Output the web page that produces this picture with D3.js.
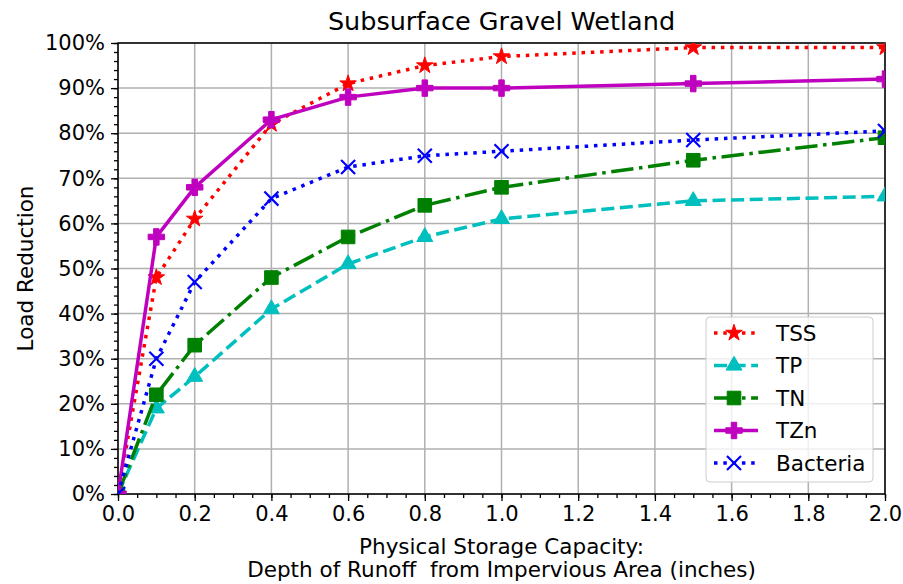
<!DOCTYPE html>
<html>
<head>
<meta charset="utf-8">
<script src="https://cdn.jsdelivr.net/npm/d3@7"></script>
<style>
  body { margin: 0; background: #fff; }
  text { font-family: "DejaVu Sans", sans-serif; fill: #000; }
</style>
</head>
<body>
<div id="chart"></div>
<script>
// depth of runoff (inches)
var depths = [0, 0.1, 0.2, 0.4, 0.6, 0.8, 1.0, 1.5, 2.0];

// load reduction (%) per pollutant
var tss      = [0, 48, 61, 82, 91, 95, 97, 99, 99];
var tp       = [0, 19, 26, 41, 51, 57, 61, 65, 66];
var tn       = [0, 22, 33, 48, 57, 64, 68, 74, 79];
var tzn      = [0, 57, 68, 83, 88, 90, 90, 91, 92];
var bacteria = [0, 30, 47, 65.5, 72.5, 75, 76, 78.5, 80.5];

var x_ticks = [0, 0.2, 0.4, 0.6, 0.8, 1.0, 1.2, 1.4, 1.6, 1.8, 2.0];
var y_ticks = [0, 10, 20, 30, 40, 50, 60, 70, 80, 90, 100];

var series = [
    {name: "TSS",      values: tss,      color: "#ff0000", dash: "3.5,5.8",           symbol: d3.symbolStar,     size: 85,  fill: true},
    {name: "TP",       values: tp,       color: "#00bfbf", dash: "13,5.6",            symbol: d3.symbolTriangle, size: 110, fill: true},
    {name: "TN",       values: tn,       color: "#008000", dash: "22.4,5.6,3.5,5.6",  symbol: d3.symbolSquare,   size: 185, fill: true},
    {name: "TZn",      values: tzn,      color: "#bf00bf", dash: null,                symbol: d3.symbolCross,    size: 150, fill: true},
    {name: "Bacteria", values: bacteria, color: "#0000ff", dash: "3.5,5.8",           symbol: d3.symbolX,        size: 130, fill: false}
];

var width = 903, height = 584;
var margin = {top: 43, right: 18, bottom: 90, left: 118};
var inner_width = width - margin.left - margin.right;
var inner_height = height - margin.top - margin.bottom;

var svg = d3.select("#chart").append("svg")
    .attr("width", width)
    .attr("height", height);

var x_scale = d3.scaleLinear().domain([0, 2]).range([0, inner_width]);
var y_scale = d3.scaleLinear().domain([0, 100]).range([inner_height, 0]);

var g = svg.append("g")
    .attr("transform", "translate(" + margin.left + "," + margin.top + ")");

// grid
g.append("g").selectAll("line").data(x_ticks).enter().append("line")
    .attr("x1", function(d) {return x_scale(d);})
    .attr("x2", function(d) {return x_scale(d);})
    .attr("y1", 0).attr("y2", inner_height)
    .attr("stroke", "#b0b0b0").attr("stroke-width", 1.5);
g.append("g").selectAll("line").data(y_ticks).enter().append("line")
    .attr("y1", function(d) {return y_scale(d);})
    .attr("y2", function(d) {return y_scale(d);})
    .attr("x1", 0).attr("x2", inner_width)
    .attr("stroke", "#b0b0b0").attr("stroke-width", 1.5);

// axes (major + minor ticks)
var x_axis = d3.axisBottom(x_scale).tickValues(x_ticks).tickSize(7).tickPadding(5)
    .tickFormat(d3.format(".1f"));
var x_minor = d3.axisBottom(x_scale).tickValues(d3.range(0, 2.0001, 0.05)).tickSize(4).tickFormat("");
var y_axis = d3.axisLeft(y_scale).tickValues(y_ticks).tickSize(7).tickPadding(6)
    .tickFormat(function(d) {return d + "%";});
var y_minor = d3.axisLeft(y_scale).tickValues(d3.range(0, 100.001, 2)).tickSize(4).tickFormat("");

[[x_minor, true], [x_axis, true], [y_minor, false], [y_axis, false]].forEach(function(a) {
    var ax = g.append("g").call(a[0]);
    if(a[1]) ax.attr("transform", "translate(0," + inner_height + ")");
    ax.select(".domain").remove();
    ax.selectAll("line").attr("stroke", "#000").attr("stroke-width", 1.3);
    ax.selectAll("text").style("font-size", "21px").style("font-family", "DejaVu Sans");
});

// frame
g.append("rect")
    .attr("width", inner_width).attr("height", inner_height)
    .attr("fill", "none").attr("stroke", "#000").attr("stroke-width", 1.5);

// lines and markers, clipped to the axes like matplotlib does
svg.append("defs").append("clipPath").attr("id", "plot-clip")
    .append("rect").attr("width", inner_width).attr("height", inner_height);

var line = d3.line()
    .x(function(d, i) {return x_scale(depths[i]);})
    .y(function(d) {return y_scale(d);});

function draw_marker(sel, s) {
    sel.attr("d", d3.symbol().type(s.symbol).size(s.size))
        .attr("fill", s.fill ? s.color : "none")
        .attr("stroke", s.color)
        .attr("stroke-width", s.fill ? 1 : 2.2);
}

var plot = g.append("g").attr("clip-path", "url(#plot-clip)");
series.forEach(function(s) {
    var sg = plot.append("g");
    sg.append("path")
        .attr("d", line(s.values))
        .attr("fill", "none")
        .attr("stroke", s.color)
        .attr("stroke-width", 3.5)
        .attr("stroke-dasharray", s.dash)
        .attr("stroke-linejoin", "round");
    sg.selectAll(".mk").data(s.values).enter().append("path")
        .attr("class", "mk")
        .attr("transform", function(d, i) {return "translate(" + x_scale(depths[i]) + "," + y_scale(d) + ")";})
        .each(function() {draw_marker(d3.select(this), s);});
});

// legend
var legend = svg.append("g").attr("transform", "translate(706,317)");
legend.append("rect")
    .attr("width", 167).attr("height", 165).attr("rx", 4)
    .attr("fill", "#fff").attr("fill-opacity", 0.8)
    .attr("stroke", "#cccccc").attr("stroke-width", 1);

series.forEach(function(s, i) {
    var row = legend.append("g").attr("transform", "translate(0," + (16 + i * 32.5) + ")");
    row.append("line")
        .attr("x1", 8).attr("x2", 52).attr("y1", 0).attr("y2", 0)
        .attr("stroke", s.color).attr("stroke-width", 3.5)
        .attr("stroke-dasharray", s.dash);
    row.append("path").attr("transform", "translate(28,0)")
        .each(function() {draw_marker(d3.select(this), s);});
    row.append("text")
        .attr("x", 70).attr("y", 0).attr("dy", "0.35em")
        .style("font-size", "21.5px")
        .text(s.name);
});

// title and axis labels
svg.append("text")
    .attr("x", margin.left + inner_width / 2).attr("y", 30)
    .attr("text-anchor", "middle")
    .style("font-size", "25.5px")
    .text("Subsurface Gravel Wetland");

svg.append("text")
    .attr("transform", "translate(33," + (margin.top + inner_height / 2) + ") rotate(-90)")
    .attr("text-anchor", "middle")
    .style("font-size", "21.5px")
    .text("Load Reduction");

var xlab = svg.append("text")
    .attr("text-anchor", "middle")
    .style("font-size", "21.5px");
xlab.append("tspan").attr("x", margin.left + inner_width / 2).attr("y", 554)
    .text("Physical Storage Capacity:");
xlab.append("tspan").attr("x", margin.left + inner_width / 2).attr("y", 577)
    .attr("xml:space", "preserve").style("white-space", "pre")
    .text("Depth of Runoff  from Impervious Area (inches)");
</script>
</body>
</html>
